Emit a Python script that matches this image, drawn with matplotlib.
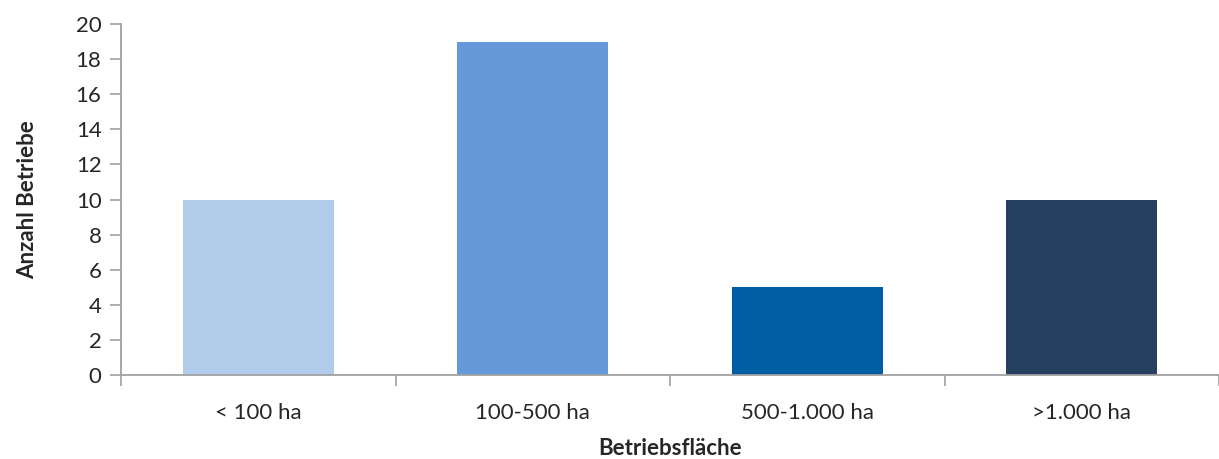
import matplotlib
matplotlib.use("Agg")
import matplotlib.pyplot as plt

categories = ["< 100 ha", "100-500 ha", "500-1.000 ha", ">1.000 ha"]
values = [10, 19, 5, 10]
colors = ["#B1CBEB", "#6699DA", "#005EA4", "#264061"]
yticks = [0, 2, 4, 6, 8, 10, 12, 14, 16, 18, 20]

plt.rcParams['font.family'] = ['Lato', 'DejaVu Sans']

fig = plt.figure(figsize=(12.19, 4.59), dpi=100)
W, H = 1219, 459
left, right, top, bottom = 121, 1219, 24, 375
ax = fig.add_axes([left / W, (H - bottom) / H, (right - left) / W, (bottom - top) / H])

x = list(range(len(categories)))
ax.bar(x, values, width=0.55, color=colors, zorder=2)

ax.set_ylim(0, 20)
ax.set_yticks(yticks)
ax.set_yticklabels([str(v) for v in yticks], fontsize=16, color="#262626")
cat_w = 276
ax.set_xlim(-0.5, -0.5 + (right - left) / cat_w)
ax.set_xticks(x)
ax.set_xticklabels(categories, fontsize=16, color="#262626")
ax.tick_params(axis='x', length=0, pad=20)
ax.set_xticks([i + 0.5 for i in range(-1, len(categories))], minor=True)
ax.tick_params(axis='x', which='minor', length=8, color="#A0A0A0", width=1.2)
ax.tick_params(axis='y', length=8, color="#A0A0A0", width=1.2, pad=6)

for s in ["top", "right"]:
    ax.spines[s].set_visible(False)
for s in ["left", "bottom"]:
    ax.spines[s].set_color("#A0A0A0")
    ax.spines[s].set_linewidth(1.3)

ax.set_ylabel("Anzahl Betriebe", fontsize=16, fontweight="bold", color="#262626", labelpad=27)
ax.set_xlabel("Betriebsfläche", fontsize=16, fontweight="bold", color="#262626", labelpad=11)

fig.savefig("out.png", dpi=100)
